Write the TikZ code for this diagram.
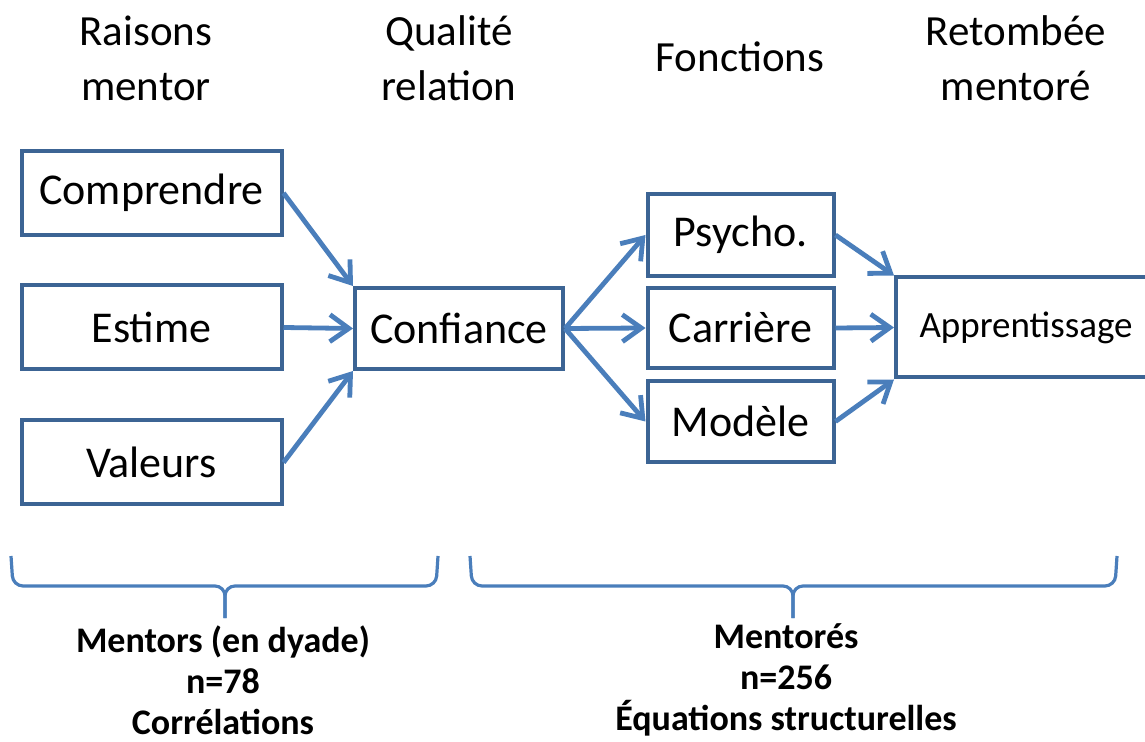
\documentclass[tikz,border=0pt]{standalone}
\usepackage{fontspec}
\setmainfont{Carlito}
\usetikzlibrary{arrows.meta}
\definecolor{boxblue}{HTML}{3C6494}
\definecolor{arrblue}{HTML}{4A7EBB}
\begin{document}
\begin{tikzpicture}[x=0.5pt,y=-0.5pt,
  box/.style={draw=boxblue,line width=2pt,inner sep=0pt,align=center,
    font=\fontsize{22pt}{26pt}\selectfont},
  head/.style={align=center,inner sep=0pt,font=\fontsize{21.5pt}{27.5pt}\selectfont},
  foot/.style={align=center,inner sep=0pt,font=\fontsize{18pt}{20.5pt}\selectfont\bfseries},
  conn/.style={draw=arrblue,line width=2.4pt,-{Straight Barb[length=9.5pt,width=13.5pt]}},
  brace/.style={draw=arrblue,line width=1.6pt,rounded corners=5pt}]
\clip (0,0) rectangle (1145,742);
% headers
\node[head] (h1) at (146,58) {Raisons\\mentor};
\node[head] (h2) at (449,58) {Qualité\\relation};
\node[head] (h3) at (740,57) {Fonctions};
\node[head] (h4) at (1016,58) {Retombée\\mentoré};
% boxes
\node[box,minimum width=130pt,minimum height=42pt] (comp) at (151.5,193) {Comprendre};
\node[box,minimum width=130pt,minimum height=42pt] (est) at (151.5,327.5) {Estime};
\node[box,minimum width=130pt,minimum height=42pt] (val) at (151.5,462.5) {Valeurs};
\node[box,minimum width=104pt,minimum height=40.5pt] (conf) at (459,328.5) {Confiance};
\node[box,minimum width=93pt,minimum height=41pt] (psy) at (740.5,235) {Psycho.};
\node[box,minimum width=93pt,minimum height=40pt] (car) at (740.5,328) {Carrière};
\node[box,minimum width=93pt,minimum height=40.5pt] (mod) at (740.5,421.5) {Modèle};
\node[box,minimum width=130pt,minimum height=50pt,font=\fontsize{18.5pt}{22pt}\selectfont] (app) at (1026,327.5) {Apprentissage};
% connectors
\draw[conn] (comp.east) -- (conf.north west);
\draw[conn] (est.east) -- (conf.west);
\draw[conn] (val.east) -- (conf.south west);
\draw[conn] (conf.east) -- (psy.west);
\draw[conn] (conf.east) -- (car.west);
\draw[conn] (conf.east) -- (mod.west);
\draw[conn] (psy.east) -- (app.north west);
\draw[conn] (car.east) -- (app.west);
\draw[conn] (mod.east) -- (app.south west);
% braces
\coordinate (b1tip) at (225,618);
\coordinate (b2tip) at (793,618);
\draw[brace] (11,556) -- (13,586) -- (225,586) -- (b1tip);
\draw[brace] (438,556) -- (436,586) -- (225,586) -- (b1tip);
\draw[brace] (470,556) -- (472,586) -- (793,586) -- (b2tip);
\draw[brace] (1117,556) -- (1115,586) -- (793,586) -- (b2tip);
% footers
\node[foot] (f1) at (223,680) {Mentors (en dyade)\\n=78\\Corrélations};
\node[foot] (f2) at (786,680) {Mentorés\\n=256\\Équations structurelles};
\end{tikzpicture}
\end{document}
